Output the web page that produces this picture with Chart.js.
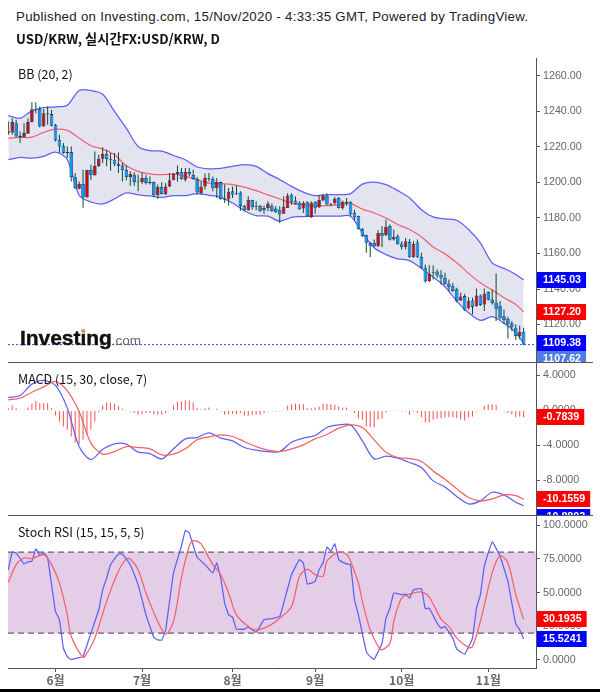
<!DOCTYPE html>
<html>
<head>
<meta charset="utf-8">
<title>USD/KRW</title>
<script src="https://cdn.jsdelivr.net/npm/chart.js@4"></script>
<style>
html,body{margin:0;padding:0;background:#fff;}
#page{position:relative;width:600px;height:692px;overflow:hidden;background:#fff;}
canvas{position:absolute;left:0;}
.txt{position:absolute;white-space:nowrap;color:#111;z-index:3;}
.title{left:16px;top:9px;font:13.3px "Liberation Sans",sans-serif;letter-spacing:.28px;color:#222;}
.sub{left:16px;top:29px;font:bold 13.2px "Noto Sans CJK KR",sans-serif;}
.pane{left:18px;font:12.5px "Noto Sans CJK KR",sans-serif;}
.rule{position:absolute;left:8px;width:585px;height:1px;background:#555;z-index:2;}
#logo{left:20px;top:326px;font:bold 21px "Liberation Sans",sans-serif;color:#111;letter-spacing:-.05px;-webkit-text-stroke:.4px #111;}
#logo span{font:13.5px "Liberation Sans",sans-serif;color:#666;letter-spacing:0;-webkit-text-stroke:0;}
#dot{position:absolute;left:82px;top:329px;width:3px;height:3px;border-radius:2px;background:#f5a623;z-index:4;}
#edge{position:absolute;left:0;top:689px;width:600px;height:3px;background:#000;z-index:5;}
</style>
</head>
<body>
<div id="page">
  <div class="txt title">Published on Investing.com, 15/Nov/2020 - 4:33:35 GMT, Powered by TradingView.</div>
  <div class="txt sub">USD/KRW, 실시간FX:USD/KRW, D</div>
  <div class="txt pane" style="top:64px">BB (20, 2)</div>
  <div class="txt pane" style="top:369px">MACD (15, 30, close, 7)</div>
  <div class="txt pane" style="top:522px">Stoch RSI (15, 15, 5, 5)</div>
  <div class="txt" id="logo">Investing<span>.com</span></div>
  <div id="dot"></div>
  <canvas id="priceChart" width="600" height="304" style="top:58px"></canvas>
  <canvas id="macdChart" width="600" height="153" style="top:362px"></canvas>
  <canvas id="stochChart" width="600" height="177" style="top:515px"></canvas>
  <div class="rule" style="top:362px"></div>
  <div class="rule" style="top:515px"></div>
  <div id="edge"></div>
</div>
<script>
// candles, one per trading day
const highs = [
  1234.4,1236.2,1235.3,1228.7,1233.4,1236.2,1245.2,1245.2,1242.8,1241.3,1242.8,1240.9,
  1233,1226.9,1222.2,1220.3,1220.3,1205.3,1200.6,1207.2,1207.2,1210,1217.5,1215.6,
  1219.9,1218.4,1216.6,1216.6,1216.9,1211,1209.5,1206.3,1205.7,1204.4,1205.7,1204.4,
  1203.5,1200.6,1198.8,1200.1,1199.7,1205.3,1205.3,1209.5,1208.1,1208.1,1208.1,1207.2,1203.1,
  1200.6,1205,1205.3,1203.4,1202.5,1200.6,1198.8,1196.9,1197.8,1198.2,1195,1187.5,
  1192.2,1190.3,1189.4,1187.5,1187.1,1189.4,1188.1,1186.6,1186.6,1192.2,1194,1194,
  1192.2,1189.4,1189.4,1189.4,1189.4,1189.4,1192.6,1193.7,1194,1188.4,1191.8,1191.8,
  1189.9,1191.3,1189.4,1184.7,1181.3,1174.4,1170.7,1166.4,1167.9,1173.1,1175.3,1179.1,1176.3,1173.5,1170.7,
  1166.9,1168.8,1168.2,1166.9,1167.9,1160.4,1153.8,1153.4,1153.3,1151,1150.6,1149.1,
  1145.4,1143.5,1140.7,1137.9,1137.3,1135.5,1135.1,1140.3,1136.9,1140.3,1138.8,1139.8,
  1148.8,1133.2,1128.5,1124.4,1122,1120.1,1119.5,1118.2
];
const lows = [
  1226.9,1226.9,1225.5,1222.2,1225,1227.4,1233.8,1239,1231,1231.5,1232.5,1231.5,
  1223.1,1216.6,1216,1213.8,1200.6,1196.3,1196,1185.7,1191.3,1201.6,1203.8,1208.7,
  1211,1209.1,1206.6,1209.1,1205.3,1200.6,1201.2,1198.2,1198.2,1195,1199.3,1198.8,
  1198.8,1191.8,1190.7,1193.2,1193,1197.3,1201.2,1200.6,1201.6,1200.6,1203.5,1201.6,1193.2,
  1193.1,1196,1200.6,1195,1191.3,1190.3,1188.4,1187.1,1191.3,1193.1,1184.1,1183.8,
  1184.1,1184.7,1184.3,1183.4,1182.4,1183.8,1183.4,1182.8,1177.2,1182.4,1185.6,1187.5,
  1187.5,1184.7,1182.8,1180.6,1180,1182.4,1185.6,1189.4,1187.1,1186.9,1187.5,1185.3,
  1184.7,1186.9,1181.3,1178.7,1173.5,1169.3,1160.4,1158.1,1163.7,1163.7,1163.7,1169.7,1167.3,1167.3,1165,
  1162.2,1162.2,1157.6,1157.6,1157.6,1151.6,1143.5,1144,1145.4,1146.3,1142.6,1142.2,
  1138.8,1138.5,1132.6,1133.2,1127.6,1128.5,1125.7,1130,1130.4,1127.6,1133.6,1131.3,
  1122,1122.9,1120.1,1112.1,1116.3,1111.3,1111.7,1108.5
];
const opens = [
  1227.8,1228.2,1233.4,1226.3,1225.4,1227.4,1234,1240.9,1241.3,1231.5,1239,1238.5,
  1232.5,1223.9,1220.7,1216.4,1217.1,1202.9,1196.5,1199.2,1191.7,1207,1204,1209.3,
  1213.4,1216,1213.4,1212.8,1210.6,1209.5,1207,1203.1,1204.4,1200.1,1200.1,1202.5,
  1199.5,1200.3,1192.8,1197.5,1193.3,1197.8,1201.2,1204.8,1205.9,1201.6,1205.9,1204.2,1202,
  1194,1197.8,1202.1,1202,1196.7,1200.2,1190.7,1190.5,1195,1193.3,1194.3,1186.8,
  1184.3,1190.1,1186.9,1186.8,1184.3,1185.6,1186.9,1185.3,1184.7,1182.4,1185.6,1193.1,
  1189.8,1188.6,1185.3,1188.8,1180.4,1189.2,1186,1189.8,1192.6,1187.9,1188.3,1191.3,
  1185.5,1189,1189.2,1182.8,1181.1,1173.8,1170.3,1166,1166,1164.1,1171.6,1170.3,1175.5,1167.9,1169.7,
  1165.6,1163.6,1166.5,1157.9,1166.2,1158.1,1152,1144.4,1149,1149.9,1148,1146.3,
  1142.9,1141.6,1139.8,1133.6,1136,1129.1,1133.6,1130.4,1136.4,1131.3,1138.3,1134.1,
  1132.3,1130.6,1124.6,1123.3,1120.7,1118.2,1113.5,1116
];
const closes = [
  1228.7,1234,1225.9,1225.4,1227.8,1234,1241.3,1241.3,1231.5,1239,1238.5,1231.9,
  1223.7,1220.3,1216.6,1217.1,1203.1,1196.9,1199.2,1191.7,1207,1204,1209.3,1213.4,
  1216,1213.2,1212.8,1210.2,1209.3,1207,1203.1,1204.8,1200.3,1200.5,1202.5,1199.7,
  1200.3,1192.8,1197.5,1193.5,1197.8,1201.2,1204.8,1205.9,1202,1205.9,1204.6,1202,1194.5,
  1197.8,1202.5,1202.5,1196.7,1200.2,1190.7,1190.3,1194.6,1193.1,1194,1186.8,1184.3,
  1190.1,1186,1186.4,1183.8,1185.6,1188.1,1183.8,1183.2,1181.9,1186.4,1192.6,1189.2,
  1187.7,1184.9,1188.6,1181,1188.4,1185.8,1190.1,1192.6,1187.7,1187.5,1190.7,1185.6,
  1189,1188.3,1181.9,1180.4,1173.8,1169.7,1166,1164.1,1164.1,1171.6,1169.7,1175,1167.7,1169.3,1165.2,
  1163.6,1166.9,1157.9,1165.4,1157.9,1152,1144.4,1148.6,1149.5,1147.6,1146.3,1142.8,
  1141.1,1138.8,1133.2,1135.8,1128,1133.4,1129.8,1136.4,1131,1137.3,1134,1132.1,
  1128.9,1123.5,1122.5,1120.3,1118.4,1113.5,1116,1108.7
];

// bollinger bands and macd lines were read every third candle
const lineIdx = [0,3,6,9,12,15,18,21,24,27,30,33,36,39,42,45,48,51,54,57,60,63,66,69,72,75,78,81,84,87,90,93,96,99,102,105,108,111,114,117,120,123,126,129,131];
const bbUpper = [
  1237.7,1236.2,1240.3,1242.2,1242.6,1243.5,1251.8,1251.8,1249.7,1240,1230.6,1220.3,1217.9,1217.7,1215.2,1212.8,1208.7,
  1207.7,1207.9,1209.1,1210,1209.1,1205,1201.6,1197.8,1194.6,1192.6,1193.1,1193.1,1193.7,1199.1,1200.2,1198.8,1195.4,
  1191.3,1184.7,1180.6,1179.5,1178.7,1173.5,1166,1154.7,1151.6,1148.2,1145.03
];
const bbMiddle = [
  1225,1225.4,1225.5,1228.2,1230,1229.3,1225,1220.7,1218.8,1215.6,1209.4,1206.3,1204.9,1204.4,1204.8,1203.4,1201.6,
  1199.7,1199.3,1198.8,1197.4,1195.4,1193,1190.7,1188.4,1187.3,1186.9,1186.9,1187.5,1188.1,1185,1182.8,1180,1176.3,
  1173.5,1169.4,1163.6,1159.8,1154.8,1148.8,1143.5,1139.4,1135.1,1131.3,1127.2
];
const bbLower = [
  1212.8,1214.1,1213.7,1214.7,1217.1,1212.8,1192.8,1189,1187.9,1190.7,1194.1,1193,1192.4,1191.6,1192.6,1192.6,1193.7,
  1192.8,1191.8,1188.4,1184.1,1181.3,1181,1178.2,1180.4,1180.8,1181,1181,1181,1181,1171.6,1163.2,1159.4,1157,
  1156,1151.6,1146.7,1141.3,1133.2,1126.6,1122.3,1124.4,1120.7,1115.4,1109.38
];
const macdLine = [
  1.49,1.71,3.01,3.43,2.86,0.27,-4.12,-5.6,-4.42,-3.81,-3.85,-4.76,-4.92,-5.53,-4.38,-3.24,-3.09,-2.55,-3.16,-3.47,-4.23,-4.53,-4.69,-4.69,-3.62,
  -3.16,-2.86,-1.94,-1.64,-1.64,-3.47,-5.53,-5.22,-5.45,-5.94,-6.52,-8.04,-8.73,-9.83,-10.67,-10.33,-9.34,-9.64,-10.48,-10.88
];
const macdSignal = [
  1.22,1.41,2.09,2.7,3.31,2.25,-0.12,-3.73,-4.99,-4.69,-4.12,-4.23,-4.38,-5.07,-4.99,-4.38,-3.35,-3.01,-2.78,-2.97,-3.54,-4.12,-4.53,-4.69,-4.38,
  -3.93,-3.24,-2.74,-2.02,-1.64,-1.94,-3.35,-4.76,-5.37,-5.49,-5.83,-6.9,-7.85,-8.95,-9.94,-10.33,-10.1,-9.64,-9.72,-10.1559
];
const macdHist = [
  .27,.57,.27,.08,.08,.34,.76,1.1,.84,.84,.84,.27,-.57,-1.26,-1.83,-2.21,-2.97,-3.66,-3.85,-3.35,-2.78,-2.21,-1.26,-.19,
  .53,.91,.88,.76,.53,.19,.04,-.11,-.3,-.5,-.42,-.3,-.3,-.42,-.5,-.5,-.3,.08,.57,1.03,1.03,1.14,1.14,.95,
  .27,.15,.27,.34,.08,.19,-.11,-.5,-.42,-.38,-.42,-.3,-.57,-.61,-.5,-.5,-.5,-.3,-.11,-.08,-.11,-.11,.08,.53,
  .72,.8,.72,.72,.27,.27,.34,.46,.76,.76,.72,.65,.46,.34,.34,.04,-.3,-.88,-1.07,-1.83,-1.91,-1.91,-1.07,-.95,
  -.19,-.04,.04,-.04,-.11,-.11,-.5,-.11,-.3,-.76,-1.37,-1.37,-1.07,-.95,-.88,-.76,-.76,-.76,-.88,-1.07,-1.14,-.76,-.69,-.11,
  .04,.53,.72,.72,.65,.08,-.11,-.3,-.42,-.76,-.69,-.7839
];

// stoch rsi, read at the turning points of each line
const stochKIdx = [0,1,2,4,5,6,7,8,9,10,11,12,13,14,15,16,18,19,21,23,24,25,26,28,29,31,33,35,37,38,39,40,42,44,45,46,48,50,52,53,54,55,56,57,58,60,61,63,65,67,69,70,72,74,
  75,76,78,79,80,81,82,83,84,86,87,88,89,91,92,93,95,96,97,98,100,101,102,103,105,106,107,109,110,111,113,114,116,118,119,120,121,123,125,127,128,129,130,131];
const stochK = [67,80,79.5,71.3,72.8,73.3,82.4,77.7,79.5,75.7,55.9,36,29.8,8.7,2.5,0.3,1.8,2.5,19.9,37.3,52.2,60.8,70.8,78.7,78.7,70.8,55.9,33.5,16.7,14.9,14.7,22.4,64.6,84.4,96.1,94.3,76.2,70.8,64.6,72,60.8,42.2,33.5,31.8,22.9,22.9,24.4,20.6,29.8,30.6,32.3,42.2,63.3,74.5,
  72,56.4,58.4,67,72,83.7,80.7,86.2,74.5,71.3,70.8,44.7,33.5,6.2,2.5,.5,12.4,31,38.5,49.7,48.4,48.9,45.9,52.2,52.9,38,38.5,27.3,23.6,24.9,16.2,8,4.3,16.2,38.5,48.4,69.5,87.6,77,58.4,42.2,26.6,22.4,15.5241];
const stochDIdx = [0,2,4,6,9,11,13,15,16,19,20,22,25,28,30,31,33,35,38,40,42,44,46,47,49,51,52,54,56,58,61,63,66,69,72,74,
  76,78,80,81,84,86,87,89,90,92,94,95,97,98,100,103,105,107,110,112,114,117,118,120,123,125,127,129,131];
const stochD = [57.6,70.8,75.7,75.2,78.2,70.8,57.1,33.5,17.4,2,5,16.2,43.5,65.8,75,75,67,49.7,28.6,19.1,28.6,60.8,84.4,88.6,86.2,75.7,70.8,63.3,49.7,33.5,24.9,22.4,24.9,31,39.7,62,
  67.5,63.3,62.1,73.3,80.2,78.2,73.3,57.1,43.5,22.4,10,7.5,12.4,28.6,45.9,49.7,50.4,46.7,30.3,24.9,16.2,9.2,10,28.6,64.6,77.5,72,48.4,30.1935];
const stochBand = [80, 20];

// axes
const priceTicks = [1260,1240,1220,1200,1180,1160,1140,1120];
const macdTicks = [4,0,-4,-8];
const stochTicks = [100,75,50,25,0];
const monthIdx = [12,34,57,78,100,122];
const monthLabels = ['6월','7월','8월','9월','10월','11월'];

// value tags on the right axis: value, colour, push down so they do not overlap
const priceTags = [[1145.03,'#0000ff',0],[1127.20,'#ff0000',0],[1109.38,'#0000ff',0],[1107.62,'#4f7be6',12]];
const macdTags = [[-0.7839,'#ff0000',0],[-10.1559,'#ff0000',0],[-10.8803,'#0000ff',11]];
const stochTags = [[30.1935,'#ff0000',0],[15.5241,'#0000ff',0]];

const xMin = -0.076, xMax = 134.14;
const BLUE_LINE = '#5f5ff5', RED_LINE = '#f2606f';
const AXIS = '#555', LABEL = '#666';
const tickFont = {family:'"Liberation Sans"', size:10.7};

function line(idx, vals, color, extra){
  return Object.assign({type:'line', data:idx.map((x,i)=>({x:x,y:vals[i]})), borderColor:color, borderWidth:1.25, pointRadius:0, fill:false, tension:.3}, extra||{});
}
function tagPlugin(tags, digits){
  return {id:'tags', afterDraw(chart){
    const c = chart.ctx, y = chart.scales.y;
    c.save();
    c.font = 'bold 10.7px "Liberation Sans"';
    c.textBaseline = 'middle';
    tags.forEach(t => {
      const txt = t[0].toFixed(digits), py = Math.round(y.getPixelForValue(t[0])) + t[2];
      const w = c.measureText(txt).width + 11;
      c.fillStyle = t[1];
      c.fillRect(537, py-8, w, 16);
      c.fillStyle = '#fff';
      c.fillText(txt, 543, py+.5);
    });
    c.restore();
  }};
}
function opts(yMin, yMax, ticks, digits, showX){
  return {
    responsive:false, animation:false, events:[],
    layout:{padding:{left:8,right:0,top:0,bottom:0}},
    plugins:{legend:{display:false}, tooltip:{enabled:false}},
    scales:{
      x:{type:'linear', offset:false, min:xMin, max:xMax, display:showX,
        grid:{drawOnChartArea:false, offset:false, color:AXIS, tickLength:4},
        border:{color:AXIS},
        afterBuildTicks:s=>{ s.ticks = monthIdx.map(v=>({value:v})); },
        afterFit:s=>{ s.height = showX ? 24 : 0; s.paddingLeft = 0; s.paddingRight = 0; },
        ticks:{autoSkip:false, maxRotation:0, padding:1, color:LABEL, font:{family:'"Noto Sans CJK KR"', size:12, weight:'bold'},
          callback:v=>monthLabels[monthIdx.indexOf(v)]}},
      y:{type:'linear', position:'right', min:yMin, max:yMax,
        grid:{drawOnChartArea:false, color:AXIS, tickLength:4},
        border:{color:AXIS},
        afterBuildTicks:s=>{ s.ticks = ticks.map(v=>({value:v})); },
        afterFit:s=>{ s.width = 64; s.paddingTop = 0; s.paddingBottom = 0; },
        ticks:{autoSkip:false, padding:3, color:LABEL, font:tickFont, callback:v=>v.toFixed(digits)}}
    }
  };
}

// price pane
const lastClose = closes[closes.length-1];
new Chart(document.getElementById('priceChart'), {
  type:'bar',
  data:{datasets:[
    line(lineIdx, bbUpper, BLUE_LINE, {fill:'+1', backgroundColor:'#e4e4f1', order:7}),
    line(lineIdx, bbLower, BLUE_LINE, {order:6}),
    line(lineIdx, bbMiddle, RED_LINE, {order:5}),
    line([xMin,xMax], [lastClose,lastClose], '#3a55d8', {borderWidth:1, borderDash:[2,2], tension:0, order:4}),
    {data:highs.map((h,i)=>({x:i,y:[lows[i],h]})), backgroundColor:'#0c4a28', barThickness:1, inflateAmount:0, grouped:false, order:2},
    {data:opens.map((o,i)=>({x:i,y:[o,closes[i]]})),
      backgroundColor:opens.map((o,i)=>closes[i]>=o?'#dc0000':'#0a96f2'),
      borderColor:'#1a3f70', borderWidth:.8, borderSkipped:false, barThickness:3.6, inflateAmount:0, grouped:false, order:1}
  ]},
  options:opts(1098.9,1270.1,priceTicks,2,false),
  plugins:[tagPlugin(priceTags,2)]
});

// macd pane
new Chart(document.getElementById('macdChart'), {
  type:'bar',
  data:{datasets:[
    {data:macdHist.map((v,i)=>({x:i,y:v})), backgroundColor:'#f65050', barThickness:1, inflateAmount:0, grouped:false, order:3},
    line(lineIdx, macdLine, BLUE_LINE, {order:2}),
    line(lineIdx, macdSignal, '#f56060', {order:1})
  ]},
  options:opts(-11.94,5.54,macdTicks,4,false),
  plugins:[tagPlugin(macdTags,4)]
});

// stoch rsi pane
new Chart(document.getElementById('stochChart'), {
  type:'line',
  data:{datasets:[
    line([xMin,xMax], [stochBand[0],stochBand[0]], '#6b5a6e', {fill:'+1', backgroundColor:'#e4cde7', borderDash:[6,4], tension:0, order:4}),
    line([xMin,xMax], [stochBand[1],stochBand[1]], '#6b5a6e', {borderDash:[6,4], tension:0, order:3}),
    line(stochKIdx, stochK, BLUE_LINE, {tension:.1, order:2}),
    line(stochDIdx, stochD, '#f5606f', {order:1})
  ]},
  options:opts(-5.96,107.6,stochTicks,4,true),
  plugins:[tagPlugin(stochTags,4)]
});
</script>
</body>
</html>
